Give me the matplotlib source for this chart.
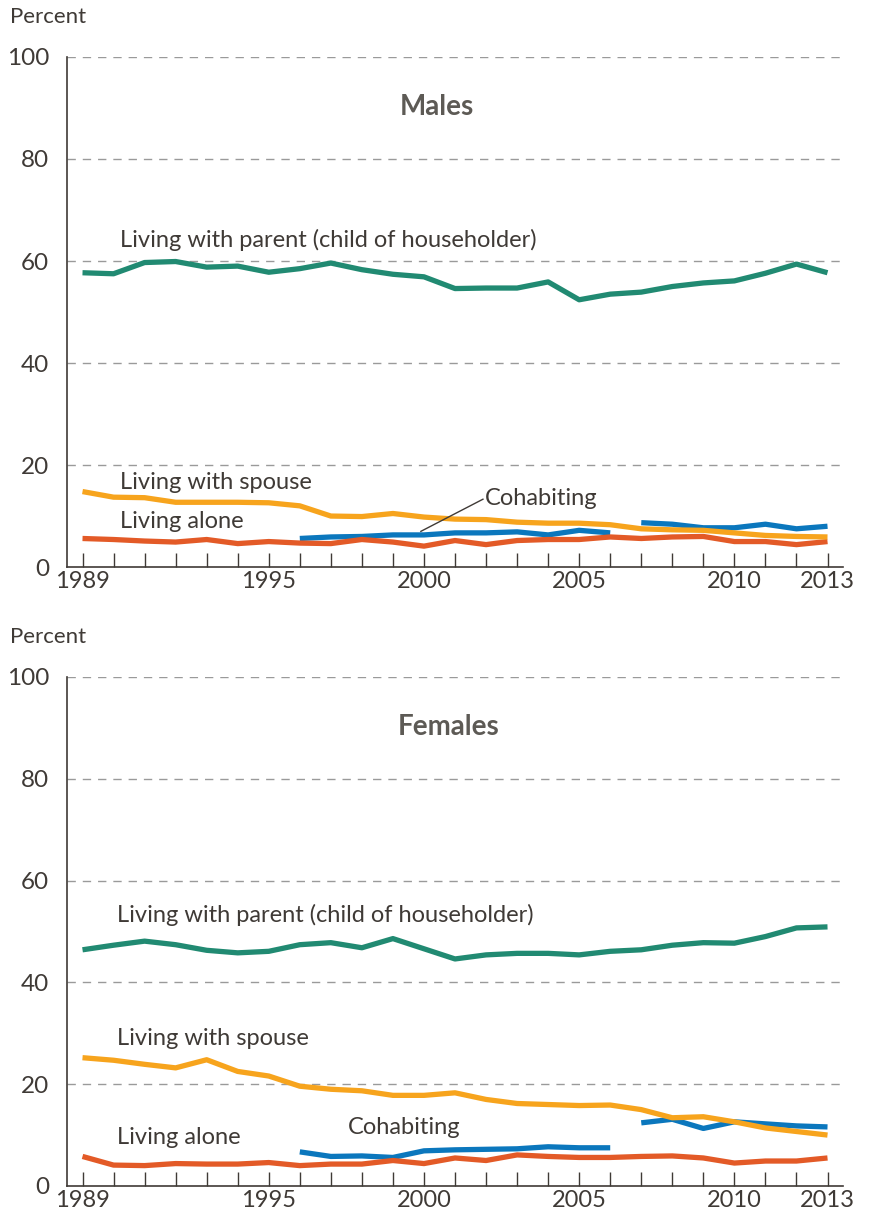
import matplotlib.pyplot as plt
import numpy as np

plt.rcParams['font.family'] = ['Lato', 'DejaVu Sans']

years = np.arange(1989, 2014)
cohab_years_a = np.arange(1996, 2007)
cohab_years_b = np.arange(2007, 2014)

# Males
m_parent = [57.7, 57.5, 59.7, 59.9, 58.8, 59.0, 57.8, 58.5, 59.6, 58.3, 57.4, 56.9, 54.6,
            54.7, 54.7, 55.9, 52.4, 53.5, 53.9, 55.0, 55.7, 56.1, 57.6, 59.4, 57.7]
m_spouse = [14.8, 13.7, 13.6, 12.7, 12.7, 12.7, 12.6, 12.0, 10.0, 9.9, 10.5, 9.8, 9.4,
            9.3, 8.8, 8.6, 8.6, 8.3, 7.5, 7.3, 7.2, 6.7, 6.2, 6.0, 5.9]
m_alone = [5.6, 5.4, 5.1, 4.9, 5.4, 4.6, 5.0, 4.7, 4.6, 5.4, 4.9, 4.1, 5.2,
           4.4, 5.2, 5.4, 5.4, 5.9, 5.6, 5.9, 6.0, 5.0, 5.0, 4.4, 5.0]
m_cohab_a = [5.6, 5.9, 6.0, 6.3, 6.3, 6.7, 6.7, 6.9, 6.3, 7.2, 6.7]
m_cohab_b = [8.7, 8.4, 7.7, 7.7, 8.4, 7.5, 8.0]

# Females
f_parent = [46.4, 47.3, 48.1, 47.4, 46.3, 45.8, 46.1, 47.4, 47.8, 46.8, 48.6, 46.6, 44.6,
            45.4, 45.7, 45.7, 45.4, 46.1, 46.4, 47.3, 47.8, 47.7, 49.0, 50.7, 50.9]
f_spouse = [25.2, 24.7, 23.9, 23.2, 24.8, 22.5, 21.6, 19.6, 19.0, 18.7, 17.8, 17.8, 18.3,
            17.0, 16.2, 16.0, 15.8, 15.9, 15.0, 13.4, 13.6, 12.6, 11.4, 10.7, 10.0]
f_alone = [5.8, 4.1, 4.0, 4.4, 4.3, 4.3, 4.6, 4.0, 4.3, 4.3, 5.0, 4.4, 5.5,
           5.0, 6.1, 5.8, 5.6, 5.6, 5.8, 5.9, 5.5, 4.5, 4.9, 4.9, 5.5]
f_cohab_a = [6.7, 5.8, 5.9, 5.6, 6.9, 7.1, 7.2, 7.3, 7.7, 7.5, 7.5]
f_cohab_b = [12.4, 13.1, 11.3, 12.6, 12.2, 11.8, 11.6]

green = '#218a72'
orange = '#f7a41d'
red = '#e35a27'
blue = '#0b77bd'
txt = '#3f3a36'
title_c = '#5d5a55'

fig = plt.figure(figsize=(8.7, 12.2), dpi=100)


def panel(rect, title, title_x, parent, spouse, alone, cohab_a, cohab_b, labels):
    ax = fig.add_axes(rect)
    ax.plot(cohab_years_a, cohab_a, color=blue, lw=3.8, solid_capstyle='butt', zorder=3)
    ax.plot(cohab_years_b, cohab_b, color=blue, lw=3.8, solid_capstyle='butt', zorder=3)
    ax.plot(years, alone, color=red, lw=3.8, solid_capstyle='butt', zorder=4)
    ax.plot(years, spouse, color=orange, lw=3.8, solid_capstyle='butt', zorder=5)
    ax.plot(years, parent, color=green, lw=3.8, solid_capstyle='butt', zorder=6)

    ax.set_xlim(1988.5, 2013.5)
    ax.set_ylim(0, 100)
    ax.set_yticks([0, 20, 40, 60, 80, 100])
    ax.set_xticks(years)
    ax.set_xticklabels([str(y) if y in (1989, 1995, 2000, 2005, 2010, 2013) else '' for y in years])
    for g in [20, 40, 60, 80, 100]:
        ax.axhline(g, color='#9a9a9a', lw=1.0, ls=(0, (6, 5)), zorder=1)
    for s in ['top', 'right']:
        ax.spines[s].set_visible(False)
    ax.spines['left'].set_color(txt)
    ax.spines['bottom'].set_color(txt)
    ax.spines['left'].set_linewidth(1.2)
    ax.spines['bottom'].set_linewidth(1.2)
    ax.tick_params(axis='x', direction='in', length=10, width=1, color=txt,
                   labelsize=17, labelcolor=txt, pad=3)
    ax.tick_params(axis='y', length=0, labelsize=17.5, labelcolor=txt, pad=13)
    ax.text(-0.0735, 1.078, 'Percent', transform=ax.transAxes, fontsize=16, color=txt,
            ha='left', va='center')
    ax.text(title_x, 90.1, title, fontsize=20, fontweight='bold', color=title_c,
            ha='center', va='center')
    for s, x, y in labels:
        ax.text(x, y, s, fontsize=17, color=txt, ha='left', va='center')
    return ax


ax1 = panel([0.077, 0.5352, 0.892, 0.4181], 'Males', 2000.4,
            m_parent, m_spouse, m_alone, m_cohab_a, m_cohab_b,
            [('Living with parent (child of householder)', 1990.2, 64.1),
             ('Living with spouse', 1990.2, 16.6),
             ('Living alone', 1990.2, 8.9),
             ('Cohabiting', 2001.95, 13.5)])
ax1.plot([1999.9, 2001.9], [7.0, 13.3], color=txt, lw=1.0, zorder=7)

ax2 = panel([0.077, 0.0279, 0.892, 0.4172], 'Females', 2000.8,
            f_parent, f_spouse, f_alone, f_cohab_a, f_cohab_b,
            [('Living with parent (child of householder)', 1990.1, 53.2),
             ('Living with spouse', 1990.1, 28.9),
             ('Living alone', 1990.1, 9.6),
             ('Cohabiting', 1997.55, 11.4)])

fig.savefig('out.png', dpi=100)
